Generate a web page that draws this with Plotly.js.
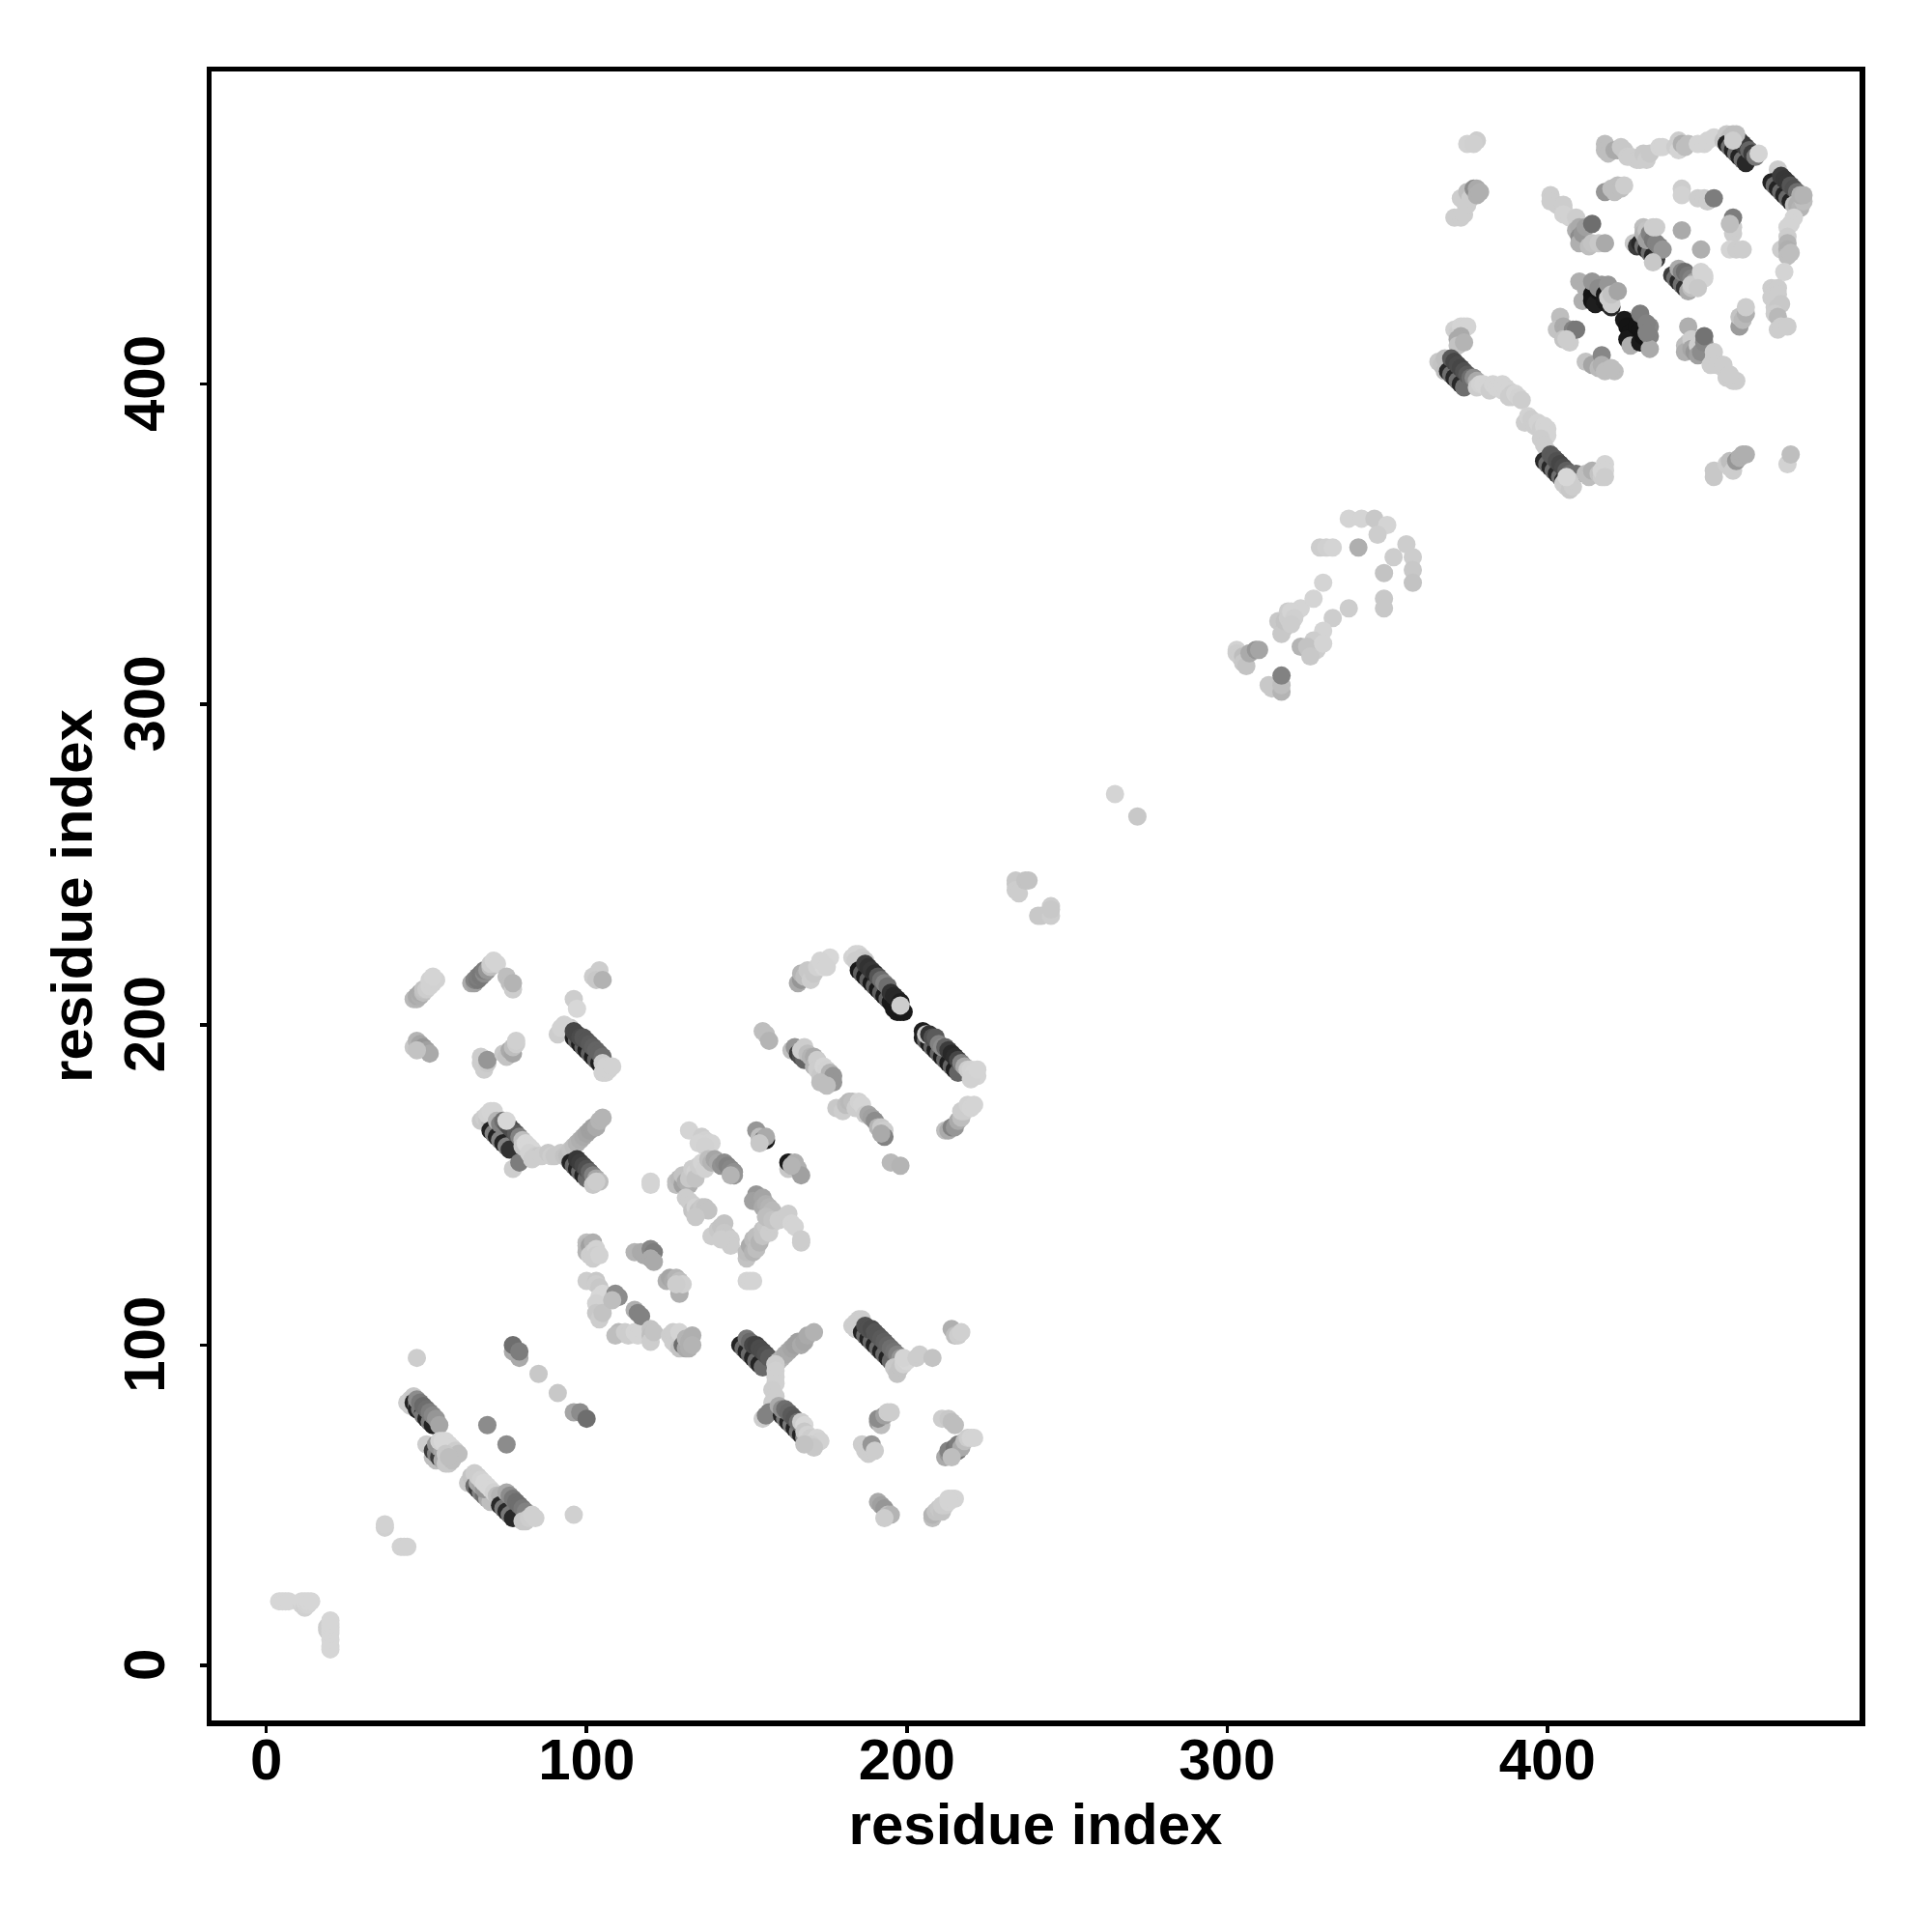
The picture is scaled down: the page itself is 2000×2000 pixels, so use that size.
<!DOCTYPE html>
<html><head><meta charset="utf-8">
<script src="https://cdn.plot.ly/plotly-3.0.1.min.js"></script>
<style>html,body{margin:0;padding:0;background:#fff}</style></head>
<body><div id="plot" style="width:2000px;height:2000px"></div>
<script>
// each contact: [residue i, residue j, grey level of the point]
const nTerminus=[[4,20,214],[5,20,214],[6,20,214],[7,20,214],[11,19,210],[11,20,214],[12,18,208],[12,19,210],[12,20,214],[13,19,212],[13,20,214],[14,20,214],[19,11,205],[19,12,205],[20,5,214],[20,6,214],[20,8,214],[20,10,214],[20,11,214],[20,12,214],[20,13,214],[20,14,214],[37,43,208],[37,44,210],[42,37,210],[43,37,210],[44,37,210]];
const strandA=[[44,82,205],[45,83,205],[45,81,205],[46,84,200],[46,82,35],[47,81,120],[47,80,35],[48,80,120],[49,79,35],[49,78,120],[50,77,35],[51,76,120],[52,75,35],[47,83,140],[48,82,120],[49,81,105],[50,80,110],[51,79,125],[52,78,135],[53,77,150],[54,75,165],[50,69,205],[52,65,190],[53,64,190],[52,67,60],[53,66,130],[54,65,60],[55,64,170],[56,63,200],[57,63,200],[58,64,190],[53,69,150],[54,68,150],[55,67,165],[54,70,210],[55,70,215],[56,70,215],[57,69,215],[58,68,215],[59,67,205],[60,66,190],[56,66,200],[57,65,190]];
const strandB=[[63,57,200],[64,59,195],[65,60,205],[65,56,110],[66,55,60],[67,54,130],[68,53,110],[69,52,170],[70,51,190],[66,57,170],[67,56,165],[68,55,150],[66,59,205],[67,58,210],[68,57,215],[69,56,215],[70,55,215],[71,54,210],[72,53,190],[73,53,180],[73,50,40],[74,49,120],[75,48,40],[76,47,120],[77,46,40],[75,54,170],[76,53,140],[77,52,120],[78,51,110],[79,50,110],[80,49,120],[81,48,130],[80,45,200],[81,45,200],[82,46,205],[83,47,208],[84,46,208],[96,47,208]];
const sparseLow=[[47,96,205],[69,75,140],[75,69,140],[77,98,170],[79,96,170],[77,100,110],[79,98,125],[85,91,200],[91,85,200],[96,79,165],[98,79,140],[100,77,110]];
const topLeftA=[[46,208,185],[47,208,180],[47,209,170],[48,209,175],[48,210,170],[49,210,190],[49,211,195],[50,211,205],[51,212,210],[51,214,210],[52,213,210],[53,214,210],[52,215,212],[64,213,170],[65,213,160],[65,214,130],[66,214,120],[66,215,125],[67,215,120],[67,216,120],[68,216,140],[68,217,125],[69,217,150],[70,218,190],[70,219,205],[71,220,212],[72,219,212],[75,215,190],[76,213,190],[77,211,205],[77,213,180],[102,215,205],[104,217,205],[103,214,200],[105,214,178]];
const strandC=[[96,208,205],[97,205,215],[95,199,205],[93,200,210],[91,197,205],[92,199,210],[96,196,30],[97,195,95],[98,194,30],[99,193,95],[100,192,30],[101,191,95],[102,190,30],[103,189,95],[104,188,30],[96,198,70],[97,197,70],[98,196,75],[99,196,85],[100,195,85],[101,194,90],[102,193,95],[103,192,100],[104,191,100],[105,190,110],[105,188,205],[106,187,210],[107,187,210],[105,185,210],[106,185,210],[107,186,210],[108,187,210]];
const leftMid=[[46,193,200],[47,195,180],[48,194,165],[49,193,150],[50,192,160],[51,191,170],[47,192,195],[67,188,205],[68,187,205],[68,186,205],[67,190,205],[69,188,200],[69,189,150],[74,191,200],[75,190,195],[76,192,170],[77,191,165],[77,193,190],[78,194,205],[78,195,208]];
const strandD=[[67,170,200],[68,171,205],[69,170,200],[70,169,190],[69,172,210],[70,173,212],[71,173,212],[70,167,35],[71,166,130],[72,165,35],[73,164,130],[74,163,35],[75,162,130],[76,161,50],[72,170,180],[73,169,130],[74,170,110],[75,169,90],[76,168,75],[77,167,75],[78,166,90],[79,165,130],[75,170,215],[77,155,205],[79,157,125],[80,164,190],[80,162,200],[81,163,215],[82,162,215],[83,161,215],[82,160,210],[84,159,205],[85,159,200],[83,158,205],[86,159,205],[88,160,200],[89,159,205],[90,159,200],[92,160,200],[93,159,195],[94,159,190]];
const forkD=[[95,161,195],[96,162,190],[97,163,180],[98,164,175],[99,165,170],[100,166,165],[101,167,160],[102,168,160],[103,168,170],[104,170,180],[105,171,180],[95,157,35],[96,156,105],[97,155,35],[98,154,105],[99,153,35],[100,152,105],[97,158,55],[98,157,60],[99,156,70],[100,155,80],[101,154,100],[102,153,130],[103,152,165],[104,151,190],[102,150,200],[103,151,205]];
const centreTop=[[120,151,212],[120,150,212],[132,167,212],[136,165,205],[137,164,210],[138,163,212],[139,163,212],[135,163,212],[137,162,210],[128,150,190],[128,151,190],[129,152,185],[130,150,160],[130,153,195],[131,151,170],[132,150,175],[132,152,200],[133,155,205],[134,154,210],[134,152,195],[135,156,205],[136,157,212],[137,155,210],[138,158,190],[139,157,180],[140,158,165],[141,157,170],[142,156,145],[143,157,140],[144,156,130],[145,155,135],[146,154,145],[146,153,150],[145,153,180],[153,167,150],[154,165,190],[155,164,120],[156,164,25],[156,165,170],[154,163,200],[163,155,200],[163,157,25],[165,157,175],[166,155,175],[167,153,160],[164,156,180]];
const centreMid=[[131,146,205],[132,145,205],[133,144,205],[133,142,195],[134,141,200],[134,143,210],[135,142,195],[136,143,200],[137,143,195],[138,142,195],[134,140,200],[139,134,205],[141,136,200],[142,137,195],[143,138,195],[143,135,200],[144,134,200],[145,133,205],[145,131,205],[142,133,205],[150,127,195],[150,129,190],[151,131,170],[152,129,180],[152,133,185],[153,130,190],[153,134,190],[154,132,180],[155,136,195],[155,134,195],[156,137,200],[157,135,205],[158,138,205],[153,147,150],[152,145,160],[154,145,160],[155,146,165],[155,143,170],[156,144,175],[157,143,180],[157,141,180],[158,142,185],[156,140,190],[158,139,195],[160,139,205],[162,140,205],[163,141,205],[164,138,212],[165,137,212],[167,132,205],[167,133,205],[150,120,212],[151,120,212],[152,120,212]];
const centreLow=[[100,132,190],[100,131,185],[100,129,180],[101,131,160],[102,132,175],[101,128,205],[102,129,205],[103,130,210],[103,128,205],[102,127,205],[104,128,210],[115,129,180],[117,129,170],[118,128,170],[120,130,135],[121,129,125],[120,127,170],[121,126,170],[125,120,175],[126,121,165],[127,120,170],[128,121,180],[129,120,190],[129,118,190],[129,116,175],[130,119,208],[128,119,205],[100,120,205],[103,120,200],[103,119,205],[104,118,200],[104,115,215],[105,116,215],[106,115,215],[103,113,210],[103,110,200],[104,108,205],[105,110,195],[109,116,140],[110,115,140],[108,114,190],[110,104,185],[109,103,190],[112,104,205],[113,103,205],[115,104,212],[116,103,212],[117,105,212],[115,111,175],[116,110,130],[117,109,130],[120,105,195],[120,103,190],[120,101,205],[121,104,195],[126,103,205],[127,101,205],[127,104,205],[128,100,205],[129,104,212],[129,99,195],[130,100,110],[131,99,170],[131,102,180],[132,99,175],[132,101,175],[133,103,175],[133,100,180]];
const forkE=[[148,100,35],[149,99,105],[150,98,35],[151,97,105],[152,96,35],[153,95,105],[154,94,35],[155,93,105],[150,102,120],[151,101,105],[152,100,70],[153,100,65],[154,99,75],[155,98,75],[156,97,80],[157,96,90],[159,94,195],[160,95,195],[161,96,180],[162,97,170],[163,98,170],[164,99,165],[165,100,160],[166,101,160],[167,100,170],[168,101,165],[169,103,170],[171,104,178],[159,94,205],[159,92,208],[159,90,208],[159,88,208],[158,86,205],[159,84,205],[158,82,205],[158,80,205],[155,77,205],[157,79,130],[156,78,130]];
const strandE=[[161,78,35],[162,77,120],[163,76,35],[164,75,120],[165,74,35],[166,73,120],[167,72,35],[168,71,140],[169,70,70],[160,81,170],[161,80,140],[162,80,110],[163,79,105],[164,78,90],[165,77,85],[166,76,110],[167,76,205],[168,75,215],[168,73,200],[169,72,210],[170,71,205],[171,70,210],[172,71,212],[173,70,210],[170,69,205],[171,68,200],[168,69,195]];
const strandF=[[183,106,205],[184,107,205],[185,108,205],[186,108,205],[184,105,205],[186,104,35],[187,103,105],[188,102,35],[189,101,105],[190,100,35],[191,99,105],[192,98,35],[193,97,105],[194,96,35],[195,95,105],[187,106,80],[188,105,80],[189,105,75],[190,104,85],[191,103,85],[192,102,90],[193,101,95],[194,100,100],[195,99,110],[196,98,115],[197,97,130],[198,96,150],[196,93,200],[197,91,195],[198,93,195],[199,94,210],[200,95,215],[199,96,212],[203,96,205],[204,97,205],[208,96,195],[214,105,175],[215,103,190],[216,103,205],[217,104,208]];
const lowerRight=[[191,76,160],[192,75,190],[191,77,140],[193,78,160],[194,79,205],[195,79,205],[186,69,205],[187,67,205],[188,66,205],[189,67,205],[189,69,150],[190,67,205],[211,77,205],[213,77,200],[214,76,190],[215,75,190],[212,65,170],[213,66,150],[213,67,130],[214,66,130],[215,68,115],[216,67,120],[216,69,125],[217,68,170],[218,70,190],[219,71,205],[220,71,212],[221,71,212],[214,65,190],[191,51,170],[192,50,160],[193,49,150],[194,47,190],[195,47,180],[193,46,205],[208,46,190],[208,47,180],[209,48,195],[210,49,200],[211,48,195],[211,50,205],[212,50,205],[213,51,212],[214,52,212],[215,52,212],[213,52,212]];
const strandG=[[166,213,170],[167,214,150],[167,216,180],[168,215,190],[169,217,200],[170,214,205],[171,216,200],[172,218,210],[174,218,215],[175,220,215],[176,221,215],[173,220,212],[175,218,212],[183,221,210],[184,222,212],[185,222,212],[186,221,205],[187,220,200],[184,220,205],[185,217,25],[186,216,95],[187,215,25],[188,214,95],[189,213,25],[190,212,95],[191,211,25],[192,210,95],[193,209,25],[194,208,95],[195,207,25],[196,205,25],[197,204,25],[198,204,25],[199,204,25],[196,206,25],[187,219,60],[188,218,50],[189,217,55],[190,216,45],[191,215,85],[192,214,110],[193,213,130],[194,212,110],[195,210,50],[196,209,40],[197,208,40],[198,207,30],[198,206,205]];
const strandH=[[205,198,30],[205,196,30],[206,195,100],[207,194,30],[208,193,100],[209,192,30],[210,191,100],[211,190,30],[212,189,100],[213,188,30],[214,187,100],[215,186,30],[216,185,100],[206,197,200],[207,197,50],[208,196,80],[209,196,90],[210,194,130],[211,193,140],[212,193,100],[213,192,60],[214,191,40],[215,190,45],[216,189,70],[217,188,130],[218,187,170],[219,186,205],[220,186,210],[221,185,212],[222,184,212],[220,183,210],[222,186,212]];
const upperRight=[[155,198,190],[156,197,190],[157,195,180],[164,192,190],[165,193,150],[166,191,60],[167,190,80],[168,189,100],[167,192,205],[168,193,205],[169,191,190],[170,190,180],[171,190,170],[171,187,180],[172,189,205],[172,186,205],[173,184,200],[174,187,212],[174,183,200],[175,186,210],[176,185,180],[177,184,150],[177,182,150],[173,182,190],[175,181,190],[178,174,200],[180,173,205],[181,175,190],[182,176,185],[183,176,190],[184,174,205],[185,176,210],[186,175,212],[187,172,205],[188,172,165],[189,171,160],[190,170,140],[191,168,180],[192,168,200],[193,167,205],[193,165,130],[192,166,170],[195,157,185],[198,156,180],[212,167,190],[213,167,170],[214,168,130],[215,168,150],[216,170,170],[217,171,190],[217,173,205],[218,173,205],[219,175,210],[220,174,212],[221,175,212]];
const linkerSparse=[[265,272,212],[272,265,200],[234,245,200],[234,244,200],[234,242,205],[235,241,205],[237,245,195],[238,245,195],[241,234,200],[242,234,200],[245,237,205],[245,234,205],[245,236,200]];
const domainMid=[[303,317,210],[303,316,205],[304,315,205],[305,315,190],[305,313,200],[306,312,195],[307,316,170],[309,317,150],[310,317,165],[313,306,200],[314,305,200],[317,304,180],[317,306,190],[317,309,130],[316,326,200],[319,329,205],[318,324,195],[317,322,200],[318,326,195],[319,327,205],[323,330,212],[327,333,212],[330,338,212],[333,327,205],[330,323,212],[327,320,205],[328,317,205],[338,330,205],[323,318,180],[325,318,195],[326,315,200],[330,319,212],[329,349,205],[331,349,208],[333,349,212],[338,358,212],[342,358,212],[346,358,200],[350,356,212],[347,353,205],[341,349,175],[349,341,195],[349,333,200],[349,330,200],[356,350,205],[352,346,205],[358,346,205],[358,342,200],[358,338,195],[320,329,212],[321,327,208],[320,325,205]];
const blockEdge=[[375,475,210],[378,476,205],[377,475,208],[371,452,205],[373,452,205],[374,453,205],[373,458,205],[374,457,205],[375,456,205],[375,460,190],[376,458,205],[377,461,140],[378,461,170],[378,459,175],[379,460,175],[371,417,208],[372,416,205],[373,418,212],[374,418,212],[375,418,212],[373,415,170],[372,414,170],[372,412,195],[374,413,180]];
const strandI=[[366,407,200],[367,406,195],[368,408,190],[369,405,195],[368,404,190],[369,404,40],[370,403,110],[371,402,40],[372,401,110],[373,400,40],[374,399,110],[370,408,90],[371,407,70],[372,406,75],[373,405,70],[374,404,80],[375,403,90],[376,402,110],[377,402,140],[378,401,170],[378,399,205],[379,400,210],[380,400,212],[381,399,212],[382,398,205],[383,400,212],[384,399,212],[385,399,212],[386,398,212],[386,400,212],[387,399,212],[388,398,212],[389,397,205],[389,396,205],[388,396,205],[390,397,212],[391,396,210],[392,395,205]];
const strandJ=[[393,388,205],[394,390,210],[395,389,205],[396,387,205],[397,388,210],[398,386,205],[399,385,208],[399,387,212],[400,386,212],[400,384,212],[398,383,205],[399,381,205],[400,379,205],[399,376,40],[400,375,110],[401,374,40],[402,373,110],[403,372,40],[404,371,110],[405,370,45],[401,378,90],[402,377,90],[403,376,80],[404,375,70],[405,374,75],[406,373,95],[407,372,110],[408,371,130],[409,372,110],[405,369,205],[406,368,205],[407,367,200],[408,368,205],[407,370,205],[406,371,215],[412,372,190],[413,371,190],[414,373,175],[416,372,195],[417,371,205],[417,373,212],[418,375,212],[418,373,212],[418,371,205],[452,373,200],[452,371,200],[456,375,205],[457,374,205],[457,376,190],[458,373,205],[459,376,150],[460,377,175],[461,378,175],[462,378,175],[475,375,210],[476,378,190]];
const topRow=[[418,475,190],[418,473,190],[419,472,190],[421,473,170],[422,473,170],[423,474,200],[424,473,200],[425,471,205],[426,471,205],[428,470,205],[429,470,205],[430,472,200],[431,470,205],[432,472,200],[435,474,212],[436,474,212],[440,474,205],[441,476,205],[441,473,212],[442,475,175],[443,474,190],[444,475,190],[447,475,212],[449,475,212],[450,476,212],[452,477,212]];
const strandK=[[455,476,195],[456,478,200],[457,477,190],[456,475,35],[457,474,110],[458,473,35],[459,472,110],[460,471,35],[461,470,110],[462,469,40],[458,478,190],[459,477,60],[460,476,50],[461,475,55],[462,474,60],[463,473,100],[464,472,60],[465,471,120],[459,478,190],[458,476,205],[466,472,212],[472,467,205],[470,463,35],[471,462,105],[472,461,35],[473,460,105],[474,459,35],[475,458,105],[476,457,35],[473,465,60],[474,464,55],[475,463,55],[476,462,85],[477,461,80],[478,460,110],[477,456,190],[478,456,175],[479,455,180],[480,457,190],[479,459,175],[480,459,180]];
const rightEdge=[[477,452,212],[476,450,212],[475,449,212],[475,446,205],[473,442,205],[475,444,180],[475,442,175],[475,440,190],[476,441,190],[474,435,212],[470,430,205],[471,429,205],[472,430,205],[470,427,205],[472,428,205],[471,424,205],[472,424,200],[473,425,200],[471,422,205],[472,421,185],[472,417,205],[473,418,205],[475,418,205]];
const innerUpper=[[418,460,150],[420,461,190],[421,460,190],[422,462,190],[423,461,190],[424,462,205],[442,461,205],[442,459,210],[447,458,205],[449,458,205],[450,457,205],[452,458,125],[401,459,205],[401,457,205],[403,456,205],[405,455,205],[405,456,205],[405,453,210],[407,452,210],[409,452,205],[409,448,175],[410,449,170],[410,446,140],[410,444,175],[411,447,150],[412,449,160],[414,450,110],[413,443,190],[414,444,195],[416,444,200],[418,444,170],[458,447,205],[458,449,205],[458,452,125],[457,450,190],[457,442,212],[459,442,205],[461,442,205],[442,448,170],[448,442,175]];
const innerMid=[[427,444,200],[428,443,60],[429,444,40],[430,443,110],[431,442,40],[432,441,110],[433,440,40],[434,439,60],[430,449,190],[430,447,180],[431,448,195],[431,445,160],[432,447,130],[433,445,120],[434,444,130],[435,443,130],[436,442,150],[433,449,205],[434,449,205],[433,438,200],[439,434,60],[440,433,110],[441,432,40],[442,431,110],[443,430,50],[444,429,170],[445,430,190],[441,436,170],[442,435,130],[443,435,110],[444,434,120],[445,433,130],[446,432,165],[445,431,205],[447,431,205],[449,433,212],[448,435,212],[449,434,212],[447,430,200]];
const innerDark=[[410,432,175],[411,426,175],[412,430,175],[414,428,20],[415,427,20],[414,426,20],[415,425,30],[416,429,20],[417,431,150],[414,432,150],[416,430,140],[418,428,25],[418,426,25],[419,425,25],[420,424,40],[419,431,150],[419,427,205],[420,425,205],[420,428,195],[422,429,165],[425,420,205],[426,418,205],[427,417,205],[424,420,25],[425,418,20],[426,416,20],[427,415,20],[428,414,25],[425,414,25],[426,412,175],[429,413,25],[428,418,20],[429,417,20],[430,415,20],[429,422,125],[432,418,135],[431,419,130],[432,415,130],[432,411,170],[431,416,130]];
const innerLow=[[404,421,190],[403,417,195],[405,418,170],[406,417,170],[405,414,195],[407,413,205],[408,417,130],[409,417,120],[406,414,205],[412,407,195],[414,406,165],[416,405,185],[417,409,135],[417,406,175],[418,404,190],[421,404,190],[420,405,190],[444,418,175],[444,413,200],[443,412,190],[443,410,175],[445,414,205],[445,411,165],[446,410,150],[447,412,205],[447,409,160],[448,410,140],[449,413,135],[449,415,115],[452,408,205],[452,410,205],[451,406,205],[453,406,205],[455,405,205],[455,406,205],[456,402,205],[458,401,205],[459,401,205],[457,403,205],[460,418,155],[460,421,195],[461,420,185],[462,422,175],[462,424,205]];

const axisTicks=[0,100,200,300,400];
const axisLabel="residue index";

const contacts=[].concat(nTerminus,strandA,strandB,sparseLow,topLeftA,strandC,leftMid,strandD,forkD,centreTop,centreMid,centreLow,forkE,strandE,strandF,lowerRight,strandG,strandH,upperRight,linkerSparse,domainMid,blockEdge,strandI,strandJ,topRow,strandK,rightEdge,innerUpper,innerMid,innerDark,innerLow);
const font="'Liberation Sans',Arial,Helvetica,sans-serif";
const axisBase={
  tickmode:"array",tickvals:axisTicks,ticktext:axisTicks.map(String),
  ticks:"outside",ticklen:7,tickwidth:3.5,tickcolor:"#000",
  showline:true,linecolor:"#000",linewidth:5.5,mirror:true,
  showgrid:false,zeroline:false,automargin:false,
  tickfont:{family:font,size:60,color:"#000",weight:700}
};
Plotly.newPlot("plot",[{
  type:"scatter",mode:"markers",
  x:contacts.map(c=>c[0]),y:contacts.map(c=>c[1]),
  marker:{size:19,color:contacts.map(c=>`rgb(${c[2]},${c[2]},${c[2]})`),line:{width:0},opacity:1},
  hoverinfo:"skip"
}],{
  width:2000,height:2000,showlegend:false,paper_bgcolor:"#fff",plot_bgcolor:"#fff",
  margin:{l:218.75,r:74.75,t:74,b:219,pad:0},
  xaxis:Object.assign({},axisBase,{range:[-17.11,497.5],ticklabelstandoff:-24,title:{text:axisLabel,font:{family:font,size:60,color:"#000",weight:700},standoff:9}}),
  yaxis:Object.assign({},axisBase,{range:[-17.2,497.6],ticklabelstandoff:13,tickangle:-90,ticktext:axisTicks.map(t=>t+"\u00A0"),title:{text:axisLabel,font:{family:font,size:60,color:"#000",weight:700},standoff:2}})
},{displayModeBar:false,staticPlot:true});
</script></body></html>
